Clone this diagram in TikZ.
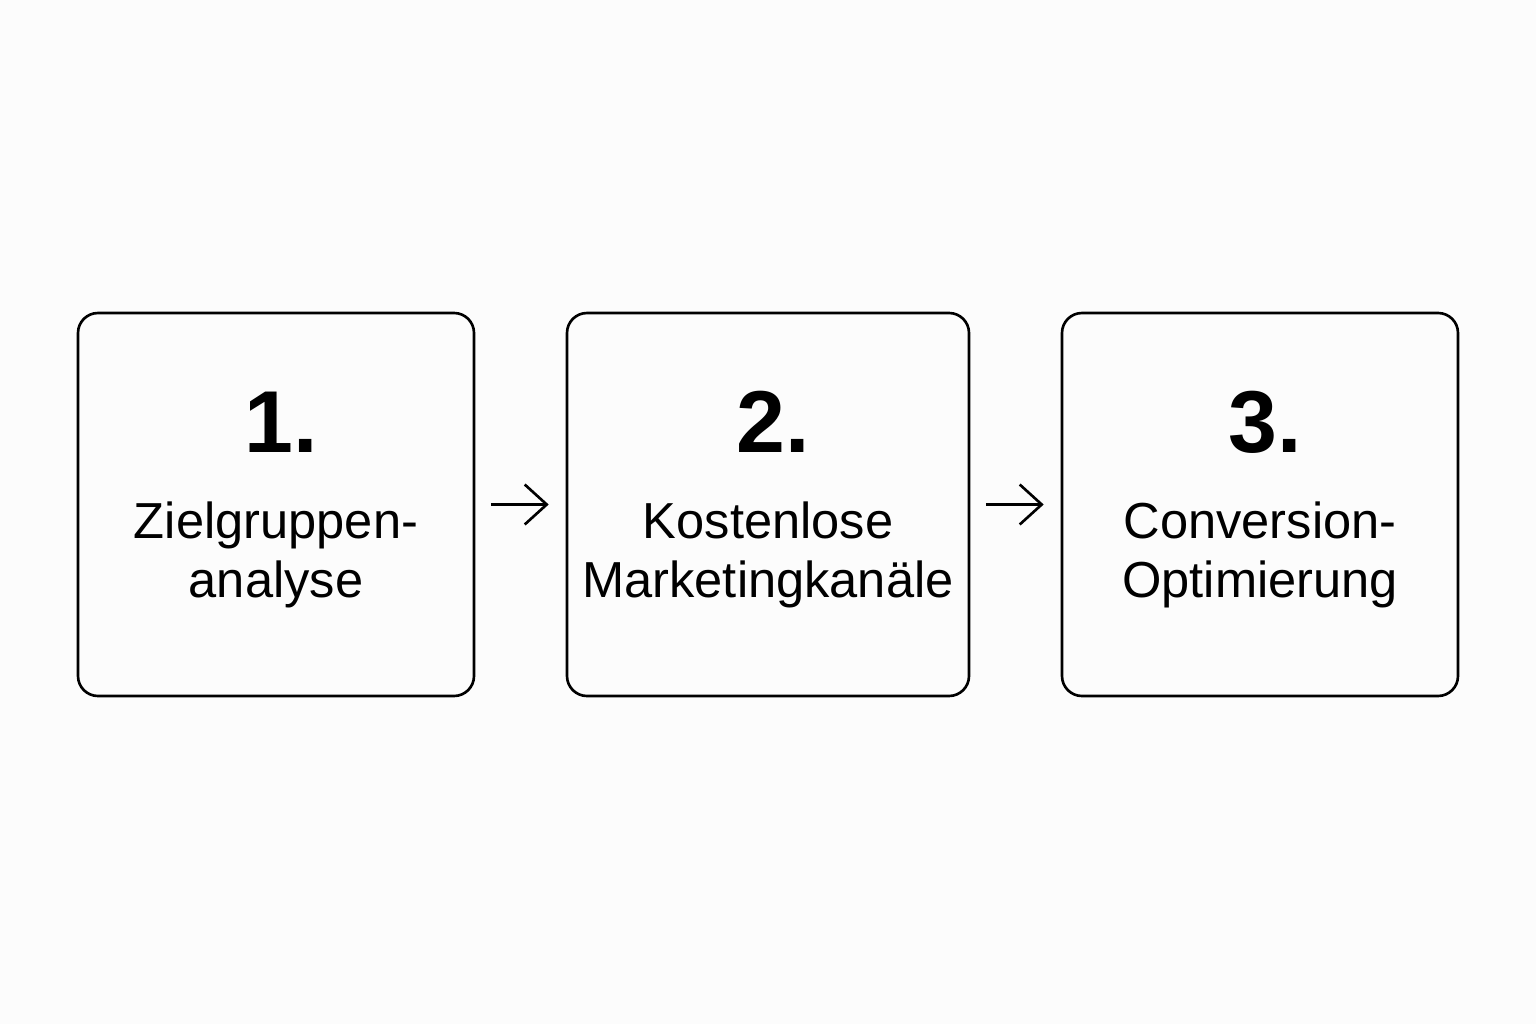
\documentclass[tikz,border=0pt]{standalone}
\usepackage{fontspec}
\setmainfont{Liberation Sans}
\usetikzlibrary{arrows.meta}

\begin{document}
\begin{tikzpicture}[
        stepbox/.style={draw, line width=0.75pt, rounded corners=2mm, minimum height=3.83cm, inner sep=0pt},
        numtext/.style={anchor=base, font=\fontsize{25}{30}\selectfont\bfseries},
        labeltext/.style={anchor=base, align=center, font=\fontsize{14.4}{16.6}\selectfont},
        flow/.style={line width=0.75pt, -{Straight Barb[length=2.2mm, width=4mm, line width=0.75pt]}, shorten <=1.55mm, shorten >=1.7mm}
    ]
            \fill[white!99!black] (0, 0) rectangle (15.36, 10.24);
            \useasboundingbox (0, 0) rectangle (15.36, 10.24);

            \foreach \cx/\bw/\num/\txt [count=\i] in {2.76/3.96/1./{Zielgruppen-\\analyse}, 7.68/4.02/2./{Kostenlose\\Marketingkanäle}, 12.60/3.96/3./{Conversion-\\Optimierung}} {
                \node[stepbox, minimum width=\bw cm] (b\i) at (\cx, 5.195) {};
                \node[numtext] (n\i) at (\cx+0.05, 5.715) {\num};
                \node[labeltext] (t\i) at (\cx, 4.27) {\txt};
            }

            \foreach \i/\j in {1/2, 2/3} {
                \draw[flow] (b\i) -- (b\j);
            }
        \end{tikzpicture}
\end{document}
